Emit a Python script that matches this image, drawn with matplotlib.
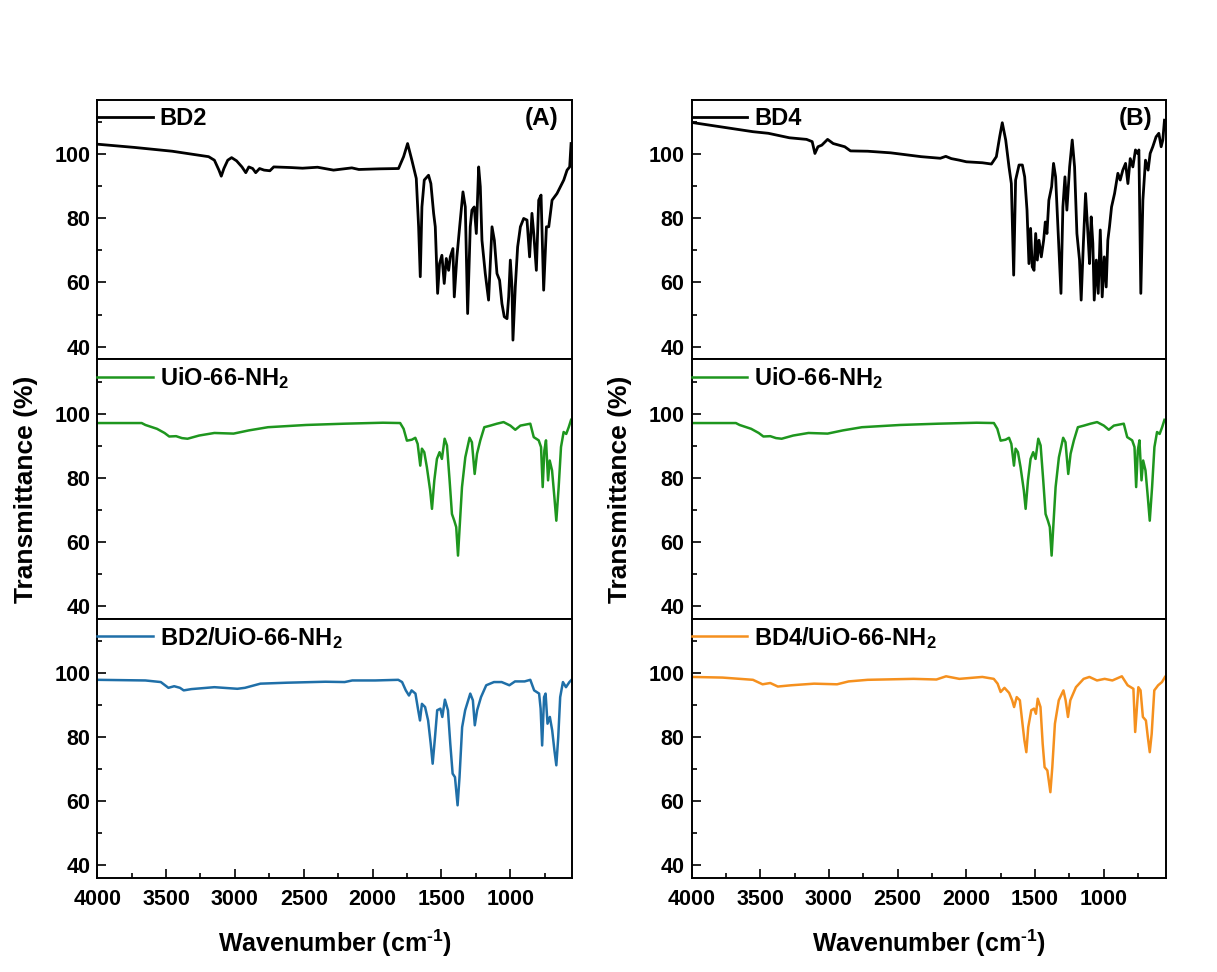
import matplotlib
matplotlib.use("Agg")
import matplotlib.pyplot as plt
from matplotlib.ticker import MultipleLocator, FixedLocator

plt.rcParams["font.family"] = "Liberation Sans"
plt.rcParams["font.weight"] = "bold"
plt.rcParams["mathtext.fontset"] = "custom"
plt.rcParams["mathtext.rm"] = "Liberation Sans:bold"
plt.rcParams["mathtext.it"] = "Liberation Sans:bold"
plt.rcParams["mathtext.bf"] = "Liberation Sans:bold"

# ---- FTIR spectra: wavenumber (cm-1) and transmittance (%) ----
bd2_wn = [4000, 3733, 3455, 3316, 3191, 3149, 3116, 3099, 3080, 3052, 3024, 2988, 2949, 2921,
          2899, 2871, 2849, 2821, 2788, 2746, 2718, 2593, 2509, 2400, 2284, 2151, 2100, 1950,
          1812, 1775, 1746, 1715, 1683, 1666, 1654, 1642, 1625, 1594, 1577, 1557, 1545, 1528,
          1514, 1497, 1480, 1465, 1448, 1436, 1417, 1407, 1388, 1368, 1344, 1327, 1310, 1291,
          1279, 1262, 1247, 1230, 1218, 1206, 1182, 1158, 1133, 1116, 1097, 1078, 1061, 1044,
          1024, 1012, 1000, 988, 981, 964, 947, 927, 903, 879, 860, 843, 830, 811, 794, 777,
          758, 738, 721, 697, 661, 612, 588, 569, 559]
bd2_t = [103.2, 102.2, 101.0, 100.1, 99.3, 98.2, 95.1, 93.2, 95.6, 98.2, 99.0, 98.0, 96.1, 94.3,
         96.1, 95.6, 94.3, 95.6, 95.1, 94.9, 96.1, 95.9, 95.7, 96.0, 95.1, 95.8, 95.3, 95.5,
         95.6, 99.3, 103.4, 98.2, 92.5, 77.4, 61.8, 83.6, 92.0, 93.5, 90.9, 81.6, 77.4, 56.6,
         65.9, 68.5, 59.7, 67.5, 63.8, 68.0, 70.6, 55.5, 68.0, 77.4, 88.3, 83.6, 50.3, 77.4,
         82.6, 83.6, 75.3, 96.1, 89.9, 73.2, 62.8, 54.5, 77.4, 73.2, 62.8, 60.7, 53.4, 49.3,
         48.7, 55.5, 67.0, 58.6, 42.0, 58.6, 71.1, 77.4, 80.0, 79.5, 68.0, 81.6, 75.3, 63.8, 85.7, 87.3,
         57.6, 77.4, 77.4, 85.7, 87.8, 92.0, 95.1, 96.1, 103.4]

bd4_wn = [4000, 3831, 3553, 3441, 3288, 3163, 3122, 3102, 3080, 3052, 3010, 2969, 2885, 2843,
          2718, 2551, 2329, 2190, 2150, 2110, 2051, 2000, 1884, 1818, 1782, 1758, 1739, 1714,
          1690, 1673, 1656, 1642, 1617, 1593, 1576, 1559, 1545, 1533, 1521, 1508, 1496, 1484,
          1472, 1455, 1438, 1426, 1414, 1400, 1380, 1366, 1351, 1332, 1312, 1298, 1283, 1269,
          1249, 1230, 1213, 1196, 1177, 1165, 1148, 1133, 1116, 1104, 1092, 1080, 1070, 1055,
          1041, 1026, 1012, 997, 983, 971, 959, 944, 922, 898, 881, 862, 842, 825, 808, 789,
          770, 755, 745, 731, 716, 697, 678, 663, 644, 620, 600, 583, 571, 559]
bd4_t = [110.0, 108.9, 107.1, 106.6, 105.2, 104.7, 104.0, 100.3, 102.4, 102.9, 104.7, 103.4, 102.4, 101.1,
         101.0, 100.5, 99.3, 98.8, 99.4, 98.7, 98.2, 97.7, 97.4, 97.0, 99.3, 105.5, 109.9, 104.5,
         96.1, 90.9, 62.3, 92.0, 96.7, 96.7, 93.0, 82.6, 65.9, 76.9, 64.9, 63.8, 75.3, 67.0,
         73.2, 68.0, 73.2, 78.9, 75.3, 85.7, 89.9, 97.2, 93.0, 75.3, 56.6, 83.6, 93.0, 82.6,
         96.1, 104.5, 96.1, 75.3, 67.0, 54.5, 73.2, 87.8, 75.3, 65.9, 80.5, 72.2, 54.5, 67.0,
         56.6, 76.4, 55.5, 68.0, 58.6, 73.2, 77.4, 83.6, 87.8, 94.1, 92.0, 95.1, 97.2, 90.9, 98.7, 96.1,
         101.4, 100.3, 101.4, 56.6, 85.7, 98.2, 95.1, 100.3, 102.4, 105.5, 106.6, 102.4, 104.5, 110.7]

uio_wn = [4000, 3677, 3650, 3566, 3511, 3477, 3427, 3385, 3344, 3260, 3149, 3010, 2899, 2760,
          2482, 2203, 1925, 1800, 1775, 1751, 1715, 1690, 1673, 1654, 1642, 1625, 1606, 1582,
          1569, 1552, 1533, 1514, 1497, 1477, 1460, 1441, 1424, 1407, 1393, 1380, 1368, 1351,
          1327, 1296, 1279, 1259, 1242, 1218, 1189, 1145, 1097, 1049, 1000, 964, 927, 855,
          830, 794, 777, 765, 753, 741, 726, 714, 697, 680, 666, 649, 632, 613, 594, 576, 559]
uio_t = [97.1, 97.1, 96.5, 95.3, 94.0, 92.9, 93.0, 92.4, 92.2, 93.2, 94.0, 93.8, 94.8, 95.8,
         96.5, 96.9, 97.2, 97.1, 95.3, 91.6, 91.9, 92.5, 90.6, 83.8, 89.1, 88.0, 83.3, 76.0,
         70.3, 79.2, 85.9, 88.0, 85.9, 92.2, 90.1, 79.2, 68.7, 66.6, 64.6, 55.7, 64.6, 77.1,
         86.4, 92.5, 91.1, 81.2, 87.5, 91.7, 95.8, 96.3, 96.9, 97.4, 96.3, 95.0, 96.3, 96.9,
         92.7, 91.7, 89.6, 77.1, 88.5, 91.7, 79.2, 85.4, 82.3, 73.9, 66.6, 77.1, 89.6, 94.3, 93.7, 95.8, 98.1]

bd2_uio_wn = [4000, 3650, 3538, 3483, 3441, 3399, 3372, 3316, 3149, 2982, 2927, 2815, 2621, 2343,
              2203, 2148, 1981, 1814, 1786, 1759, 1736, 1717, 1689, 1669, 1656, 1642, 1619, 1597,
              1578, 1564, 1547, 1531, 1508, 1494, 1475, 1453, 1436, 1419, 1402, 1383, 1369, 1350,
              1328, 1291, 1272, 1258, 1241, 1213, 1175, 1119, 1063, 1007, 966, 896, 855, 827,
              791, 780, 769, 755, 744, 730, 713, 696, 680, 666, 652, 638, 618, 596, 571, 549]
bd2_uio_t = [97.9, 97.7, 97.2, 95.4, 95.9, 95.4, 94.6, 95.0, 95.6, 95.1, 95.4, 96.7, 97.0, 97.3,
             97.2, 97.7, 97.7, 97.9, 97.2, 94.6, 93.0, 94.6, 93.6, 88.4, 85.2, 90.4, 89.4, 85.2,
             77.9, 71.7, 80.0, 88.4, 88.9, 86.3, 91.7, 88.4, 77.9, 68.6, 67.5, 58.7, 67.5, 83.1,
             88.4, 93.6, 91.5, 83.7, 88.4, 92.5, 96.2, 97.2, 97.2, 96.2, 97.4, 97.4, 97.9, 94.6,
             93.6, 88.9, 77.4, 92.5, 93.6, 84.2, 86.3, 82.1, 75.9, 71.2, 80.0, 92.5, 97.2, 95.6, 97.2, 98.2]

bd4_uio_wn = [4000, 3775, 3553, 3483, 3427, 3372, 3274, 3108, 2941, 2857, 2718, 2385, 2218, 2148,
              2051, 1884, 1801, 1773, 1751, 1723, 1689, 1667, 1653, 1634, 1611, 1592, 1578, 1564,
              1550, 1528, 1508, 1494, 1481, 1461, 1445, 1431, 1411, 1389, 1375, 1356, 1328, 1294,
              1278, 1261, 1244, 1203, 1147, 1105, 1050, 994, 938, 869, 827, 785, 772, 749, 733,
              716, 694, 680, 666, 652, 633, 605, 577, 555]
bd4_uio_t = [98.8, 98.6, 97.9, 96.5, 96.9, 95.8, 96.2, 96.7, 96.5, 97.4, 97.9, 98.2, 98.0, 99.0,
             98.2, 98.8, 98.2, 96.7, 94.1, 95.4, 93.8, 91.5, 89.4, 92.5, 91.5, 84.2, 79.0, 75.3,
             83.1, 88.4, 88.9, 87.3, 92.0, 89.4, 77.9, 70.6, 69.6, 62.8, 70.6, 84.2, 91.5, 94.6,
             91.5, 86.3, 91.5, 95.6, 98.2, 98.8, 97.7, 98.2, 97.7, 99.0, 96.2, 95.1, 81.6, 95.6, 94.6,
             86.3, 85.2, 80.0, 75.3, 81.0, 94.6, 96.2, 97.2, 98.8]

left_series = [(bd2_wn, bd2_t, "BD2", "black"),
               (uio_wn, uio_t, "UiO-66-NH$_2$", "#1e961e"),
               (bd2_uio_wn, bd2_uio_t, "BD2/UiO-66-NH$_2$", "#1f6fa8")]
right_series = [(bd4_wn, bd4_t, "BD4", "black"),
                (uio_wn, uio_t, "UiO-66-NH$_2$", "#1e961e"),
                (bd4_uio_wn, bd4_uio_t, "BD4/UiO-66-NH$_2$", "#f5901e")]
panel_tags = ["(A)", "(B)"]

fig = plt.figure(figsize=(12.17, 9.72), dpi=100)
fig.patch.set_facecolor("white")

top, bottom = 1 - 100 / 972, 1 - 878 / 972
columns = [(97.2 / 1217, 572.3 / 1217), (691.5 / 1217, 1165.7 / 1217)]

for col, (series, tag) in enumerate(zip([left_series, right_series], panel_tags)):
    l, r = columns[col]
    gs = fig.add_gridspec(3, 1, left=l, right=r, top=top, bottom=bottom, hspace=0)
    for row, (wn, t, label, color) in enumerate(series):
        ax = fig.add_subplot(gs[row, 0])
        lw = 2.0 if color == "black" else 1.8
        ax.plot(wn, t, color=color, lw=lw, label=label, solid_joinstyle="round")
        ax.set_xlim(4000, 550)
        ax.set_ylim(36, 117)

        ax.yaxis.set_major_locator(FixedLocator([40, 60, 80, 100]))
        ax.yaxis.set_minor_locator(FixedLocator([50, 70, 90, 110]))
        ax.xaxis.set_major_locator(MultipleLocator(500))
        ax.xaxis.set_minor_locator(MultipleLocator(250))
        ax.tick_params(which="both", direction="in", width=1.2, labelsize=15.5)
        ax.tick_params(which="major", length=6.5)
        ax.tick_params(which="minor", length=3.3)
        ax.tick_params(axis="y", pad=5)
        ax.tick_params(axis="x", pad=8)
        for sp in ax.spines.values():
            sp.set_linewidth(1.4)

        if row < 2:
            ax.tick_params(axis="x", which="both", bottom=False, labelbottom=False)
        else:
            ax.set_xlabel(r"Wavenumber (cm$^{\text{-1}}$)", fontsize=18, fontweight="bold")
            ax.xaxis.set_label_coords(0.5, -0.19)
        if row == 1:
            ax.set_ylabel("Transmittance (%)", fontsize=19, fontweight="bold")
            ax.yaxis.set_label_coords(-0.125, 0.5)
        if row == 0:
            ax.text(0.972, 0.93, tag, transform=ax.transAxes, ha="right", va="center",
                    fontsize=17.5, fontweight="bold")

        ax.legend(loc="center left", bbox_to_anchor=(0, 0.927), frameon=False,
                  borderpad=0, borderaxespad=0, handlelength=2.35, handletextpad=0.3,
                  prop={"size": 17, "weight": "bold"})

fig.savefig("out.png", dpi=100, facecolor="white")
